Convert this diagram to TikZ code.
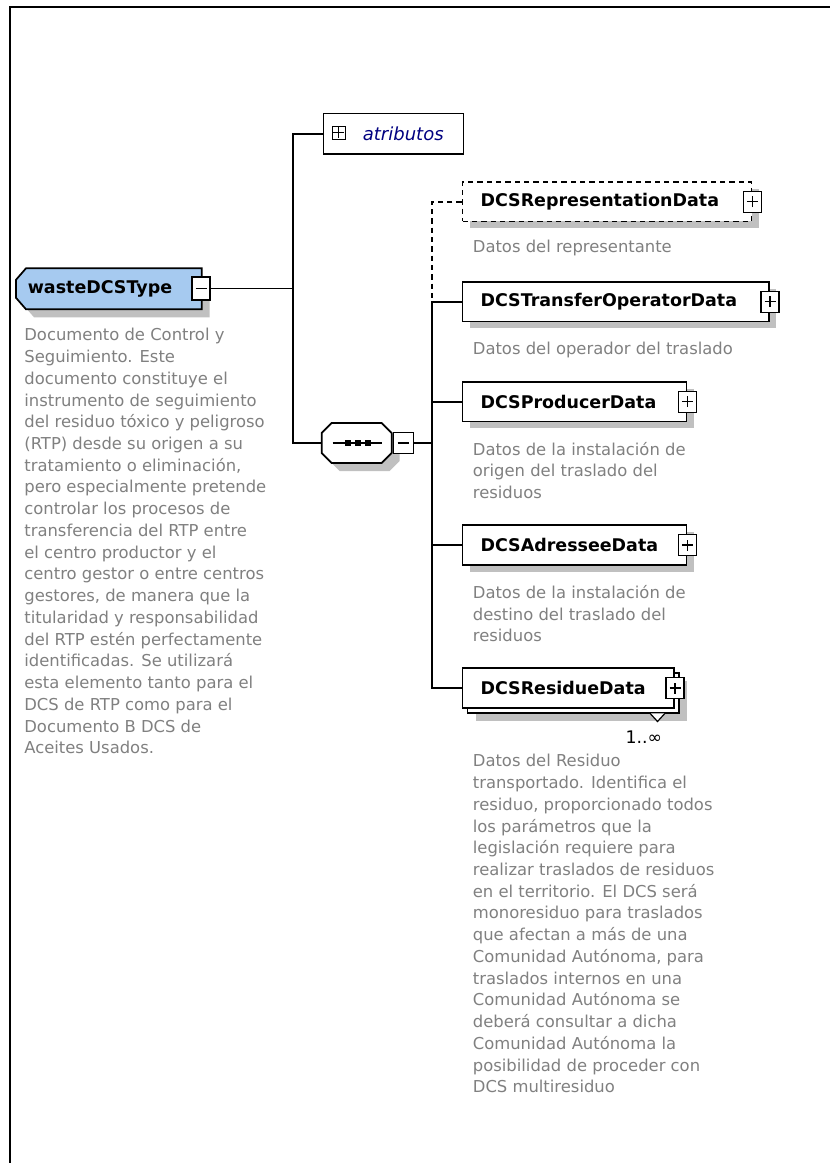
\documentclass[tikz,border=0pt]{standalone}
\usepackage{fontspec}
\setmainfont{DejaVu Sans}
\usetikzlibrary{shadows}
\hyphenpenalty=10000
\exhyphenpenalty=10000

\definecolor{typefill}{RGB}{166,202,240}
\definecolor{shadowgray}{RGB}{192,192,192}
\definecolor{docgray}{RGB}{128,128,128}
\definecolor{attrnavy}{RGB}{0,0,128}

\tikzset{every picture/.style={line width=1.3pt}}
\tikzset{
  dropshade/.style={general shadow={fill=shadowgray, shadow xshift=#1, shadow yshift=-#1}},
  dropshade/.default=5.25pt,
  elem/.style={draw, fill=white, anchor=west, align=left, minimum height=29.5pt,
    inner xsep=13.5pt, inner ysep=0pt, font=\fontsize{13.1}{15}\selectfont\bfseries},
  optelem/.style={elem, dash pattern={on 4pt off 3pt}},
  optline/.style={dash pattern={on 4pt off 3pt}},
  pmbox/.style={draw, fill=white, inner sep=0pt, minimum width=13.5pt, minimum height=15.75pt, line width=1pt},
  plusbox/.style={pmbox, path picture={\draw [line width=1pt] (path picture bounding box.center) +(-5.5,0) -- +(5.5,0) +(0,-5.5) -- +(0,5.5);}},
  minusbox/.style={pmbox, path picture={\draw [line width=1pt] (path picture bounding box.center) +(-5.5,0) -- +(5.5,0);}},
  doc/.style={anchor=north west, inner sep=0pt, align=left, text=docgray, font=\fontsize{12.3}{16.3}\selectfont},
}

\begin{document}
\begin{tikzpicture}[x=0.75pt,y=0.75pt,yscale=-1,xscale=1]
\useasboundingbox (0,0) rectangle (830,1163);

%Straight Lines: outer frame
\draw [line width=1.5pt]  (10,1163) -- (10,6.8) -- (830,6.8) ;

%Shape: wasteDCSType
\draw [fill=typefill, dropshade=6pt] (26,268.3) -- (201.7,268.3) -- (201.7,309.3) -- (26,309.3) -- (16,297.8) -- (16,279.8) -- cycle ;
% Text Node
\node (waste) at (100,289) [font=\fontsize{13.1}{15}\selectfont\bfseries] {wasteDCSType};
\node (wasteminus) at (201,288.5) [minusbox, minimum height=17.25pt] {};
% Text Node
\node (wastedoc) at (23.5,327.5) [doc] {Documento de Control y\\Seguimiento. Este\\documento constituye el\\instrumento de seguimiento\\del residuo tóxico y peligroso\\(RTP) desde su origen a su\\tratamiento o eliminación,\\pero especialmente pretende\\controlar los procesos de\\transferencia del RTP entre\\el centro productor y el\\centro gestor o entre centros\\gestores, de manera que la\\titularidad y responsabilidad\\del RTP estén perfectamente\\identificadas. Se utilizará\\esta elemento tanto para el\\DCS de RTP como para el\\Documento B DCS de\\Aceites Usados.};

%Shape: atributos
\node (attr) at (322.7,133.7) [draw, anchor=west, minimum width=105pt, minimum height=30.5pt] {};
\node (attrplus) at (338.7,132.7) [plusbox, minimum width=9.75pt, minimum height=9.75pt, line width=0.9pt] {};
\node (attrtext) at (362,133.7) [anchor=west, inner sep=0pt, text=attrnavy, font=\fontsize{13.5}{15}\selectfont\itshape] {atributos};

%Shape: sequence compositor
\draw [fill=white, dropshade=6pt] (331.7,423) -- (381.7,423) -- (391.7,433) -- (391.7,453) -- (381.7,463) -- (331.7,463) -- (321.7,453) -- (321.7,433) -- cycle ;
\node (seq) at (356.7,443) [minimum width=52.5pt, minimum height=30pt, inner sep=0pt] {};
\draw [line width=1pt] (332.7,443) -- (381.7,443) ;
\foreach \sx in {347.8,357.8,367.8}
  \fill (\sx-2.8,440.2) rectangle ++(5.6,5.6) ;
\node (seqminus) at (seq.east) [minusbox, anchor=west, minimum width=15pt] {};

%Shape: child elements
\node (rep) at (461.7,201.7) [optelem, dropshade, text width=189.75pt] {DCSRepresentationData};
\node (trans) at (461.7,301.7) [elem, dropshade, text width=203pt] {DCSTransferOperatorData};
\node (prod) at (461.7,401.7) [elem, dropshade, text width=141pt] {DCSProducerData};
\node (adr) at (461.7,545) [elem, dropshade, text width=141pt] {DCSAdresseeData};
\node (res) at (461.7,688) [elem, dropshade=9.75pt, copy shadow={shadow xshift=3.75pt, shadow yshift=-3.75pt}, text width=131.7pt] {DCSResidueData};
\foreach \el in {rep,trans,prod,adr,res}
  \node (\el-plus) at (\el.east) [plusbox] {};
\filldraw [fill=white, line width=0.9pt] (650,713.3) -- (657.5,721.5) -- (665,713.3) ;
\node (resmult) at (663,737) [anchor=east, inner sep=0pt, font=\fontsize{13}{15}\selectfont] {1..∞};

%Straight Lines: connectors
\coordinate (lbus) at (293,288.5);
\coordinate (rbus) at (431.7,443);
\draw (wasteminus.east) -- (lbus) ;
\draw (attr.west) -| (lbus) |- (seq.west) ;
\draw (seqminus.east) -- (seqminus.east -| rbus) ;
\draw [optline] (rep.west) -| (rbus |- trans.west) ;
\draw (trans.west) -| (rbus |- res.west) -- (res.west) ;
\draw (prod.west) -- (rbus |- prod.west) ;
\draw (adr.west) -- (rbus |- adr.west) ;

% Text Node
\node (repdoc) at (472,239.5) [doc] {Datos del representante};
% Text Node
\node (transdoc) at (472,341.2) [doc] {Datos del operador del traslado};
% Text Node
\node (proddoc) at (472,441.2) [doc] {Datos de la instalación de\\origen del traslado del\\residuos};
% Text Node
\node (adrdoc) at (472,584.5) [doc] {Datos de la instalación de\\destino del traslado del\\residuos};
% Text Node
\node (resdoc) at (472,753.5) [doc] {Datos del Residuo\\transportado. Identifica el\\residuo, proporcionado todos\\los parámetros que la\\legislación requiere para\\realizar traslados de residuos\\en el territorio. El DCS será\\monoresiduo para traslados\\que afectan a más de una\\Comunidad Autónoma, para\\traslados internos en una\\Comunidad Autónoma se\\deberá consultar a dicha\\Comunidad Autónoma la\\posibilidad de proceder con\\DCS multiresiduo};

\end{tikzpicture}
\end{document}
